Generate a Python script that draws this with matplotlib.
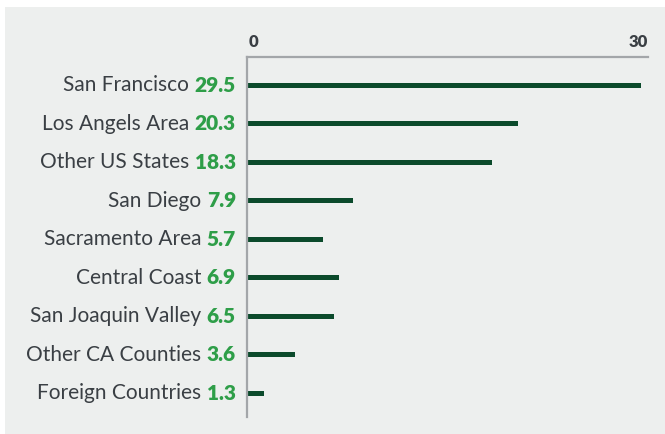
import matplotlib.pyplot as plt
from matplotlib.patches import Rectangle

regions = ["San Francisco", "Los Angels Area", "Other US States", "San Diego",
           "Sacramento Area", "Central Coast", "San Joaquin Valley",
           "Other CA Counties", "Foreign Countries"]
values = [29.5, 20.3, 18.3, 7.9, 5.7, 6.9, 6.5, 3.6, 1.3]

W, H = 665, 434
fig = plt.figure(figsize=(W / 100, H / 100), dpi=100)
fig.patch.set_facecolor("white")
bg = "#edefee"
fig.add_artist(Rectangle((5 / W, 0), 1, 1 - 7 / H, transform=fig.transFigure,
                         facecolor=bg, edgecolor="none", zorder=0))

plt.rcParams["font.family"] = ["Lato", "DejaVu Sans"]

# axes: x from 247 to 648 px, y from 57 to 417 px
ax = fig.add_axes([247 / W, 1 - 417 / H, (648 - 247) / W, (417 - 57) / H])
ax.set_facecolor("none")
n = len(regions)
ys = list(range(n))
ax.barh(ys, values, height=0.13, color="#0b4a2b")
ax.set_xlim(0, 30)
ax.set_ylim(n - 0.38, -0.73)

for s in ["right", "bottom"]:
    ax.spines[s].set_visible(False)
for s in ["left", "top"]:
    ax.spines[s].set_color("#a3a6a9")
    ax.spines[s].set_linewidth(1.6)
ax.tick_params(left=False, bottom=False, top=False, labelbottom=False, labelleft=False)
ax.set_xticks([])

ax.text(0.1, -0.92, "0", ha="left", va="bottom", fontsize=12, color="#3a3f44",
        fontweight="heavy")
ax.text(30, -0.92, "30", ha="right", va="bottom", fontsize=12, color="#3a3f44",
        fontweight="heavy")

for y, name, v in zip(ys, regions, values):
    t = ax.annotate(f"{v}", xy=(0, y), xytext=(-8, 0), textcoords="offset points",
                    ha="right", va="center", fontsize=15, fontweight="heavy",
                    color="#2e9e48", annotation_clip=False)
    fig.canvas.draw()
    bb = t.get_window_extent()
    ax.annotate(name + " ", xy=(bb.x0, (bb.y0 + bb.y1) / 2), xycoords="figure pixels",
                ha="right", va="center", fontsize=15, color="#3a3f44",
                annotation_clip=False)

fig.savefig("out.png", dpi=100, facecolor="white")
